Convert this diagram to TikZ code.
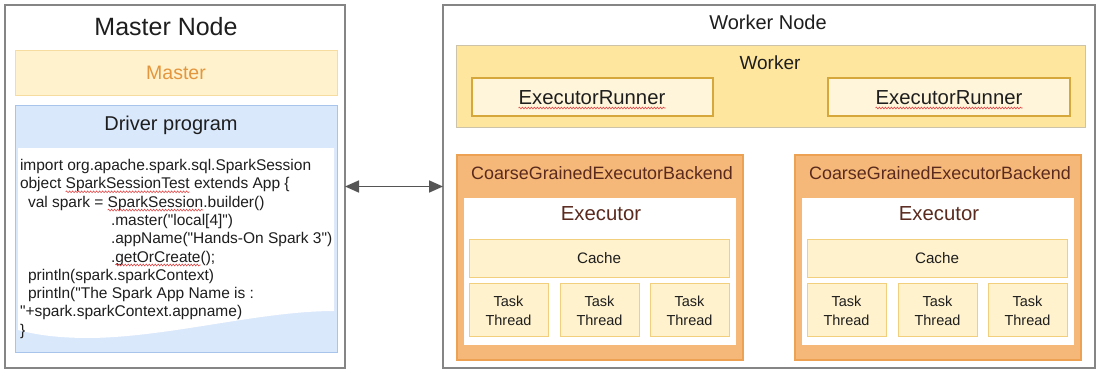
\documentclass[tikz,border=0pt]{standalone}
\usepackage{fontspec}
\setmainfont{Liberation Sans}
\usetikzlibrary{arrows.meta,decorations.pathmorphing}
\definecolor{outerdraw}{HTML}{858585}
\definecolor{masterfill}{HTML}{FFF2CC}
\definecolor{masterdraw}{HTML}{F6DC9E}
\definecolor{mastertext}{HTML}{E3963D}
\definecolor{drvfill}{HTML}{DAE8FC}
\definecolor{drvdraw}{HTML}{A9C4EB}
\definecolor{workerfill}{HTML}{FFE69F}
\definecolor{workerdraw}{HTML}{CCC3A8}
\definecolor{runnerfill}{HTML}{FFF5DA}
\definecolor{runnerdraw}{HTML}{D6A83C}
\definecolor{cgebfill}{HTML}{F5B878}
\definecolor{cgebdraw}{HTML}{EDA253}
\definecolor{cgebtext}{HTML}{5A2A1E}
\definecolor{cachefill}{HTML}{FFF2CC}
\definecolor{cachedraw}{HTML}{F2CF7C}
\definecolor{txt}{HTML}{1E1E1E}
\definecolor{arrowgray}{HTML}{555555}
\definecolor{squigred}{HTML}{E04848}
\newcommand\pxsize[1]{\fontsize{#1}{#1}\selectfont}
\newcommand\dq{\textquotedbl}
\begin{document}
\begin{tikzpicture}[x=1pt,y=-1pt,
  box/.style={rectangle, inner sep=0pt, outer sep=0pt, anchor=north west},
  outerbox/.style={box, draw=outerdraw, line width=1.3pt, fill=white},
  masterbox/.style={box, draw=masterdraw, fill=masterfill, line width=0.9pt},
  drvbox/.style={box, draw=drvdraw, fill=drvfill, line width=0.9pt},
  workerbox/.style={box, draw=workerdraw, fill=workerfill, line width=1pt},
  runnerbox/.style={box, draw=runnerdraw, fill=runnerfill, line width=1.1pt},
  cgebbox/.style={box, draw=cgebdraw, fill=cgebfill, line width=1.2pt},
  execbox/.style={box, fill=white},
  cachebox/.style={box, draw=cachedraw, fill=cachefill, line width=1pt},
  lbl/.style={inner sep=0pt, anchor=base, text=txt},
  code/.style={inner sep=0pt, outer sep=0pt, anchor=base west, text=txt, font=\pxsize{15.5}},
  squig/.style={draw=squigred, line width=0.6pt, decorate,
    decoration={snake, amplitude=0.9pt, segment length=3pt}},
  link/.style={draw=arrowgray, line width=1.7pt,
    {Triangle[length=14pt,width=12pt]}-{Triangle[length=14pt,width=12pt]}}
]
\useasboundingbox (0,0) rectangle (1102,372);

% ---------------- Master node ----------------
\node[outerbox, minimum width=340, minimum height=363] (mnode) at (5,5) {};
\node[lbl, font=\pxsize{25}] (mntitle) at (166,35) {Master Node};
\node[masterbox, minimum width=322, minimum height=45] (master) at (15,50) {};
\node[lbl, font=\pxsize{19.5}, text=mastertext] (mastertxt) at (176,79.5) {Master};
\node[drvbox, minimum width=322, minimum height=247] (driver) at (15,105) {};
\node[lbl, font=\pxsize{20}] (drvtitle) at (171,130) {Driver program};
\fill[white] (18,148) -- (334,148) -- (334,311)
  .. controls (260,311) and (170,337) .. (90,338)
  .. controls (50,338) and (30,333) .. (18,330) -- cycle;

% code lines
\node[code] (c1) at (20,170.5) {import org.apache.spark.sql.SparkSession};
\node[code] (c2a) at (20,188.8) {object\ \mbox{}};
\node[code] (c2b) at (c2a.base east) {SparkSessionTest};
\node[code] (c2c) at (c2b.base east) {\mbox{}\ extends App \{};
\node[code] (c3a) at (28,207.1) {val spark =\ \mbox{}};
\node[code] (c3b) at (c3a.base east) {SparkSession};
\node[code] (c3c) at (c3b.base east) {.builder()};
\node[code] (c4) at (111,225.4) {.master(\dq local[4]\dq)};
\node[code] (c5) at (111,243.7) {.appName(\dq Hands-On Spark 3\dq)};
\node[code] (c6a) at (111,262.0) {.};
\node[code] (c6b) at (c6a.base east) {getOrCreate};
\node[code] (c6c) at (c6b.base east) {();};
\node[code] (c7) at (28,280.3) {println(spark.sparkContext)};
\node[code] (c8) at (28,298.6) {println(\dq The Spark App Name is :};
\node[code] (c9) at (20,316.9) {\dq+spark.sparkContext.appname)};
\node[code] (c10) at (20,335.2) {\}};
\draw[squig] ([yshift=-3pt]c2b.base west) -- ([yshift=-3pt]c2b.base east);
\draw[squig] ([yshift=-3pt]c3b.base west) -- ([yshift=-3pt]c3b.base east);
\draw[squig] ([yshift=-3pt]c6b.base west) -- ([yshift=-3pt]c6b.base east);

% ---------------- Worker node ----------------
\node[outerbox, minimum width=652, minimum height=363] (wnode) at (443,5) {};
\node[lbl, font=\pxsize{20}] (wntitle) at (768,29) {Worker Node};
\node[workerbox, minimum width=629, minimum height=82] (worker) at (456,45) {};
\node[lbl, font=\pxsize{19}] (workertxt) at (770,69) {Worker};
\node[runnerbox, minimum width=241, minimum height=38] (run1) at (472,78) {};
\node[runnerbox, minimum width=242, minimum height=38] (run2) at (828,78) {};
\node[lbl, font=\pxsize{20.3}] (run1txt) at (592,104.5) {ExecutorRunner};
\node[lbl, font=\pxsize{20.3}] (run2txt) at (949,104.5) {ExecutorRunner};
\draw[squig] ([yshift=-3.5pt]run1txt.base west) -- ([yshift=-3.5pt]run1txt.base east);
\draw[squig] ([yshift=-3.5pt]run2txt.base west) -- ([yshift=-3.5pt]run2txt.base east);

% backends
\foreach \i/\dx in {1/0, 2/338} {
  \node[cgebbox, minimum width=286, minimum height=205] (cgeb\i) at (457+\dx,155) {};
  \node[lbl, font=\pxsize{17.9}, text=cgebtext] (cgebtxt\i) at (602+\dx,179) {CoarseGrainedExecutorBackend};
  \node[execbox, minimum width=272, minimum height=147] (exec\i) at (464+\dx,198) {};
  \node[lbl, font=\pxsize{20.3}, text=cgebtext] (exectxt\i) at (601+\dx,220) {Executor};
  \node[cachebox, minimum width=260, minimum height=38] (cache\i) at (469+\dx,239) {};
  \node[lbl, font=\pxsize{15.2}] (cachetxt\i) at (599+\dx,263.5) {Cache};
  \foreach \j/\tx in {1/469, 2/560, 3/650} {
    \node[cachebox, minimum width=79, minimum height=53] (task\i\j) at (\tx+\dx,283) {};
    \node[lbl, font=\pxsize{14.5}] (tasktxt\i\j) at (\tx+\dx+39.5,306) {Task};
    \node[lbl, font=\pxsize{14.5}] (threadtxt\i\j) at (\tx+\dx+39.5,325) {Thread};
  }
}

% connector
\draw[link] (mnode) -- (wnode);
\end{tikzpicture}
\end{document}
